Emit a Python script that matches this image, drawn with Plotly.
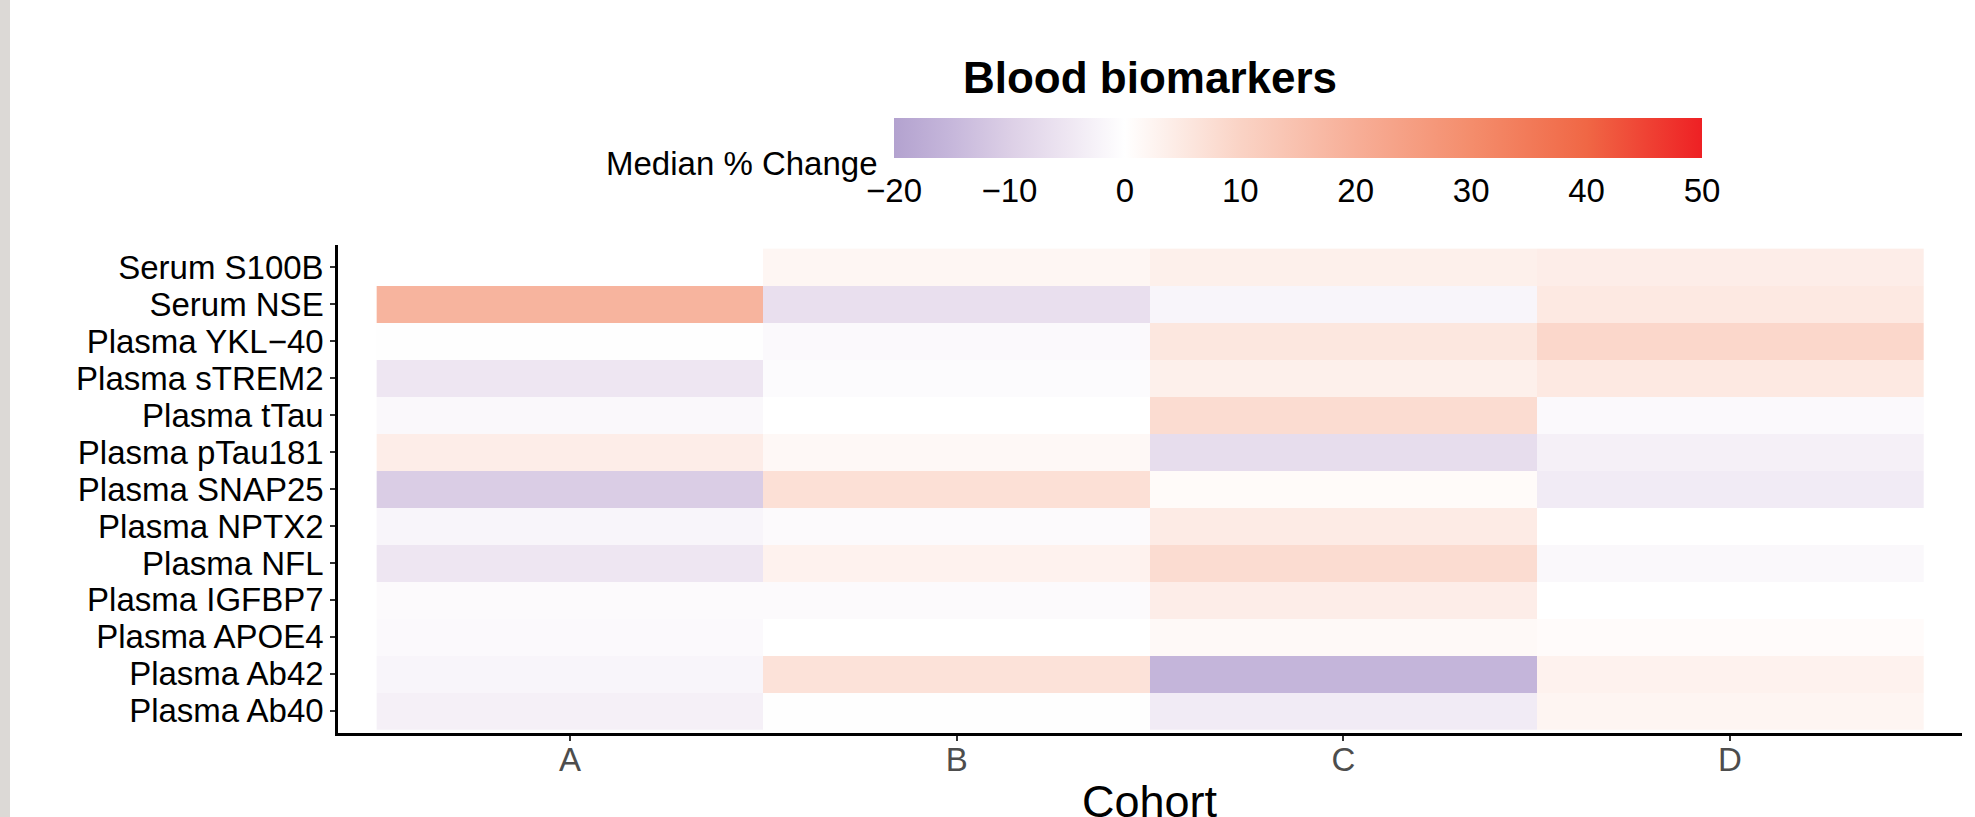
import plotly.graph_objects as go

# ---------------- data ----------------
cohorts = ["A", "B", "C", "D"]
# bottom-to-top order (plotly draws first category at bottom)
biomarkers = ["Plasma Ab40", "Plasma Ab42", "Plasma APOE4", "Plasma IGFBP7",
              "Plasma NFL", "Plasma NPTX2", "Plasma SNAP25", "Plasma pTau181",
              "Plasma tTau", "Plasma sTREM2", "Plasma YKL\u221240",
              "Serum NSE", "Serum S100B"]

cohort_A = [-3.0, -2.0, -1.3, -1.0, -5.0, -2.0, -10.5, 4.0, -1.5, -5.0, -0.3, 18.5, None]
cohort_B = [-0.2, 6.5, 0.0, -1.0, 3.0, -1.0, 7.0, 1.5, 0.0, -0.8, -1.3, -6.5, 2.0]
cohort_C = [-4.0, -15.5, 1.3, 4.0, 8.0, 4.5, 1.0, -7.0, 8.0, 3.5, 5.5, -2.0, 3.5]
cohort_D = [2.2, 3.0, 0.8, 0.0, -1.5, 0.0, -4.0, -3.0, -1.3, 5.0, 9.0, 5.0, 4.0]

cbar_ticks = [-20, -10, 0, 10, 20, 30, 40, 50]
zmin, zmax = -20, 50

# colour anchors (value -> colour)
scale_values = [-20, -15, -10, -5, 0, 10, 20, 30, 40, 50]
scale_colors = ["#B3A2CF", "#C6B7DB", "#DCCFE6", "#EEE6F2", "#FFFFFF",
                "#FAD3C5", "#F7AE97", "#F48D6C", "#F06745", "#EE2024"]

colorscale = [[(v - zmin) / (zmax - zmin), c] for v, c in zip(scale_values, scale_colors)]

# ---------------- figure ----------------
columns = [cohort_A, cohort_B, cohort_C, cohort_D]
z = [[columns[j][i] for j in range(len(cohorts))] for i in range(len(biomarkers))]

W, H = 1975, 817
ML, MR, MT, MB = 338, 13, 245, 84
PW, PH = W - ML - MR, H - MT - MB
FONT = "Liberation Sans, Arial, Helvetica, sans-serif"

fig = go.Figure()
fig.add_trace(go.Heatmap(
    x=cohorts, y=biomarkers, z=z,
    zmin=zmin, zmax=zmax, colorscale=colorscale,
    hoverongaps=False,
    colorbar=dict(
        orientation="h",
        lenmode="pixels", len=808,
        thicknessmode="pixels", thickness=40,
        xref="paper", x=(894 - ML) / PW, xanchor="left",
        yref="container", y=(H - 118) / H, yanchor="top",
        xpad=0, ypad=0,
        tickvals=cbar_ticks,
        ticks="outside", tickcolor="white", ticklen=5, tickwidth=1,
        tickfont=dict(family=FONT, size=33, color="black"),
        outlinewidth=0,
    ),
))

fig.update_layout(
    width=W, height=H,
    margin=dict(l=ML, r=MR, t=MT, b=MB, pad=0, autoexpand=False),
    paper_bgcolor="white", plot_bgcolor="white",
    font=dict(family=FONT, color="black"),
    title=dict(text="<b>Blood biomarkers</b>", font=dict(family=FONT, size=44, color="black"),
               xref="paper", x=0.5, xanchor="center",
               yref="container", y=(H - 78) / H, yanchor="middle"),
    xaxis=dict(
        type="category", range=[-0.6, 3.6], automargin=False,
        showline=True, linecolor="black", linewidth=2.5,
        ticks="outside", ticklen=5, tickwidth=2, tickcolor="#333333",
        ticklabelstandoff=-9,
        tickfont=dict(family=FONT, size=33, color="#4D4D4D"),
        showgrid=False, zeroline=False,
    ),
    yaxis=dict(
        type="category", range=[-0.6, 12.6], automargin=False,
        tickmode="array", tickvals=biomarkers, ticktext=biomarkers,
        showline=True, linecolor="black", linewidth=2.5,
        ticks="outside", ticklen=5, tickwidth=2, tickcolor="#333333",
        tickfont=dict(family=FONT, size=33, color="black"),
        showgrid=False, zeroline=False,
    ),
    annotations=[
        dict(text="Median % Change", showarrow=False,
             xref="paper", x=(880 - ML) / PW, xanchor="right",
             yref="paper", y=1 + (MT - 163) / PH, yanchor="middle",
             font=dict(family=FONT, size=33, color="black")),
        dict(text="Cohort", showarrow=False,
             xref="paper", x=0.5, xanchor="center",
             yref="paper", y=-(801 - (H - MB)) / PH, yanchor="middle",
             font=dict(family=FONT, size=45, color="black")),
    ],
    shapes=[dict(
        type="rect", xref="paper", yref="paper", layer="above",
        x0=-ML / PW, x1=(10 - ML) / PW,
        y0=-MB / PH, y1=1 + MT / PH,
        fillcolor="#DCD9D6", line=dict(width=0),
    )],
)

fig.write_html("out.html")
